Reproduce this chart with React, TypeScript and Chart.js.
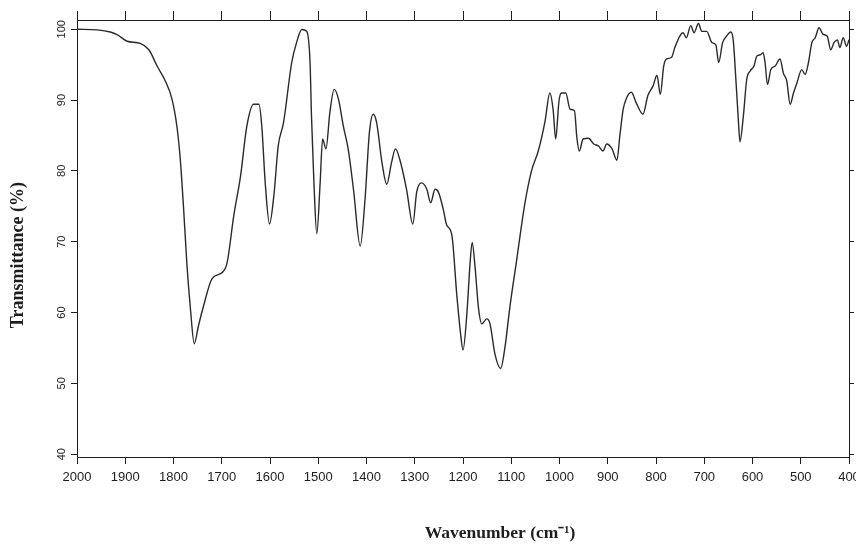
import { useEffect, useRef } from "react";
import { Chart, registerables } from "chart.js";

Chart.register(...registerables);

const wavenumbers = [
  2000, 1958, 1931, 1917, 1896, 1869, 1851, 1834, 1817, 1803, 1793, 1786, 1779, 1772, 1765, 1757, 1748, 1739, 1720, 1700,
  1689, 1675, 1661, 1648, 1634, 1623, 1617, 1610, 1601, 1592, 1583, 1572, 1555, 1545, 1534, 1524, 1517, 1514, 1509, 1503,
  1496, 1491, 1484, 1476, 1467, 1458, 1448, 1438, 1427, 1413, 1403, 1394, 1386, 1379, 1368, 1358, 1348, 1340, 1331, 1317,
  1304, 1296, 1286, 1275, 1267, 1258, 1251, 1241, 1234, 1223, 1213, 1205, 1200, 1192, 1185, 1181, 1175, 1168, 1161, 1151,
  1144, 1134, 1122, 1113, 1103, 1089, 1072, 1058, 1044, 1030, 1020, 1013, 1008, 1001, 996, 987, 978, 969, 964, 959,
  951, 940, 929, 919, 910, 902, 891, 881, 875, 868, 861, 851, 841, 827, 817, 806, 798, 791, 784, 778,
  768, 761, 751, 744, 737, 728, 721, 712, 705, 695, 684, 676, 670, 662, 654, 645, 640, 634, 629, 626,
  619, 612, 605, 597, 591, 583, 578, 574, 569, 562, 553, 543, 536, 529, 522, 515, 508, 498, 491, 484,
  477, 470, 462, 454, 445, 438, 431, 424, 419, 412, 405, 400,
];

const transmittance = [
  100.0, 99.9, 99.6, 99.25, 98.3, 98.0, 97.1, 94.8, 92.7, 90.1, 86.3, 81.7, 74.6, 66.6, 60.6, 55.6, 58.2, 60.6, 64.8, 65.6,
  67.0, 73.7, 79.3, 86.3, 89.4, 89.4, 86.3, 78.4, 72.5, 76.5, 83.5, 86.8, 95.3, 98.1, 99.95, 99.7, 95.3, 87.7, 78.4, 71.1,
  78.4, 84.5, 83.1, 88.2, 91.5, 90.1, 86.3, 83.1, 77.4, 69.4, 76.0, 85.4, 88.0, 86.8, 81.2, 78.1, 81.2, 83.1, 81.6, 77.4,
  72.5, 77.0, 78.3, 77.4, 75.5, 77.4, 77.0, 74.6, 72.4, 70.9, 62.6, 57.0, 54.7, 59.8, 67.3, 69.9, 66.4, 60.7, 58.4, 59.1,
  58.4, 54.2, 52.1, 55.1, 60.7, 67.3, 75.3, 80.0, 82.8, 87.0, 91.0, 88.5, 84.5, 89.9, 91.0, 91.0, 88.7, 88.5, 84.7, 82.8,
  84.5, 84.6, 83.8, 83.5, 82.8, 83.8, 83.1, 81.5, 84.9, 88.7, 90.3, 91.1, 89.6, 88.0, 90.6, 92.0, 93.5, 90.8, 94.8, 95.8,
  96.0, 97.4, 99.0, 99.5, 98.8, 100.5, 99.5, 100.8, 99.7, 99.7, 98.1, 97.8, 95.3, 98.1, 99.0, 99.6, 98.5, 92.4, 86.8, 84.1,
  87.7, 92.9, 94.1, 94.8, 96.2, 96.4, 96.7, 95.3, 92.2, 94.3, 94.8, 95.8, 93.8, 92.7, 89.4, 91.0, 92.4, 94.3, 93.6, 95.3,
  98.1, 98.8, 100.2, 99.3, 99.0, 97.1, 98.1, 98.5, 97.4, 98.8, 97.6, 98.5,
];

const xTickValues = [2000, 1900, 1800, 1700, 1600, 1500, 1400, 1300, 1200, 1100, 1000, 900, 800, 700, 600, 500, 400];
const xTickLabels = ["2000", "1900", "1800", "1700", "1600", "1500", "1400", "1300", "1200", "1100", "1000", "900", "800", "700", "600", "500", "400"];
const yTickValues = [40, 50, 60, 70, 80, 90, 100];
const yTickLabels = ["40", "50", "60", "70", "80", "90", "100"];

const xTitle = "Wavenumber (cm\u207B\u00B9)";
const yTitle = "Transmittance (%)";

export default function App() {
  const ref = useRef<HTMLCanvasElement>(null);

  useEffect(() => {
    document.body.style.margin = "0";
    const canvas = ref.current;
    if (!canvas) return;

    const setTicks = (vals: number[]) => (scale: any) => {
      scale.ticks = vals.map((v) => ({ value: v }));
    };
    const fixWidth = (w: number) => (scale: any) => {
      scale.width = w;
      scale.paddingTop = 0;
      scale.paddingBottom = 0;
    };
    const fixHeight = (h: number) => (scale: any) => {
      scale.height = h;
      scale.paddingLeft = 0;
      scale.paddingRight = 0;
    };

    const tickFont = { family: "'Liberation Sans Narrow', 'Liberation Sans', sans-serif", size: 13 };
    const axisColor = "#1e1e1e";

    const titlesPlugin = {
      id: "axisTitles",
      afterDraw(chart: any) {
        const c = chart.ctx;
        const a = chart.chartArea;
        c.save();
        c.fillStyle = "#1e1e1e";
        c.textAlign = "center";
        c.textBaseline = "middle";
        c.font = "bold 17.5px 'Liberation Serif', serif";
        c.fillText(xTitle, a.left + (a.right - a.left) * 0.548, chart.height - 11);
        c.font = "bold 18px 'Liberation Serif', serif";
        c.translate(18, a.top + (a.bottom - a.top) * 0.538);
        c.rotate(-Math.PI / 2);
        c.fillText(yTitle, 0, 0);
        c.restore();
      },
    };

    const chart = new Chart(canvas, {
      type: "line",
      data: {
        datasets: [
          {
            data: wavenumbers.map((w, i) => ({ x: w, y: transmittance[i] })),
            borderColor: "#2a2a2a",
            borderWidth: 1.4,
            pointRadius: 0,
            fill: false,
            cubicInterpolationMode: "monotone",
          },
        ],
      },
      options: {
        animation: false,
        responsive: false,
        devicePixelRatio: 1,
        layout: { padding: 0 },
        plugins: {
          legend: { display: false },
          tooltip: { enabled: false },
        },
        scales: {
          x: {
            type: "linear",
            position: "bottom",
            reverse: true,
            min: 400,
            max: 2000,
            afterBuildTicks: setTicks(xTickValues),
            afterFit: fixHeight(87),
            ticks: {
              autoSkip: false,
              maxRotation: 0,
              padding: 6,
              color: axisColor,
              font: tickFont,
              callback: (v: any) => xTickLabels[xTickValues.indexOf(Number(v))],
            },
            grid: { drawOnChartArea: false, drawTicks: true, tickLength: 7, color: axisColor },
            border: { display: true, color: axisColor, width: 1 },
          },
          x2: {
            type: "linear",
            position: "top",
            reverse: true,
            min: 400,
            max: 2000,
            afterBuildTicks: setTicks(xTickValues),
            afterFit: fixHeight(20),
            ticks: { display: false },
            grid: { drawOnChartArea: false, drawTicks: true, tickLength: 9, color: axisColor },
            border: { display: true, color: axisColor, width: 1 },
          },
          y: {
            type: "linear",
            position: "left",
            min: 39.6,
            max: 101.3,
            afterBuildTicks: setTicks(yTickValues),
            afterFit: fixWidth(77),
            ticks: {
              autoSkip: false,
              minRotation: 90,
              maxRotation: 90,
              crossAlign: "center",
              padding: 0,
              color: axisColor,
              font: { ...tickFont, size: 11 },
              callback: (v: any) => yTickLabels[yTickValues.indexOf(Number(v))],
            },
            grid: { drawOnChartArea: false, drawTicks: true, tickLength: 6, color: axisColor },
            border: { display: true, color: axisColor, width: 1 },
          },
          y2: {
            type: "linear",
            position: "right",
            min: 39.6,
            max: 101.3,
            afterBuildTicks: setTicks(yTickValues),
            afterFit: fixWidth(7),
            ticks: { display: false },
            grid: { drawOnChartArea: false, drawTicks: true, tickLength: 5, color: axisColor },
            border: { display: true, color: axisColor, width: 1 },
          },
        },
      } as any,
      plugins: [titlesPlugin],
    });

    return () => chart.destroy();
  }, []);

  return (
    <div style={{ width: 856, height: 544, background: "#fff" }}>
      <canvas ref={ref} width={856} height={544} style={{ display: "block" }} />
    </div>
  );
}
